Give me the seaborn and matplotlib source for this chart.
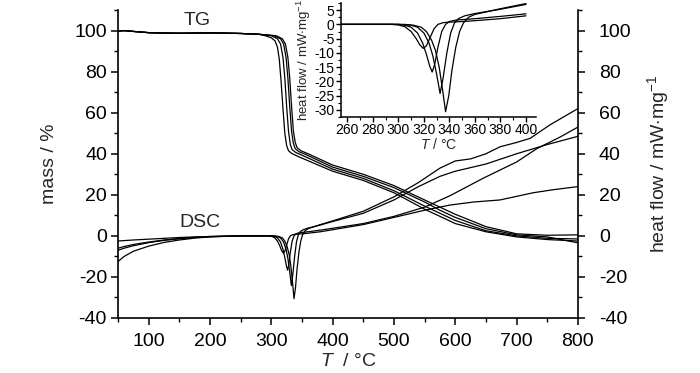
import numpy as np
import pandas as pd
import matplotlib
matplotlib.use("Agg")
import matplotlib.pyplot as plt
from matplotlib.ticker import MultipleLocator
import seaborn as sns

# ---------------- data ----------------
# TG curves (mass %)
tg_start_T = [50, 60, 75, 100, 125, 150, 200, 250, 280]
tg_start_v = [99.8, 100.0, 99.6, 99.0, 98.8, 98.7, 98.9, 98.6, 98.2]

tg1_T = [290, 300, 306, 310, 313, 316, 319, 322, 325, 328, 333, 345, 400, 450, 500, 550, 575, 600, 650, 700, 750, 800]
tg1_v = [97.5, 96.5, 95, 92, 86, 75, 62, 50, 44, 41.5, 40.2, 38.5, 31.5, 27, 21, 13, 9.5, 6, 2, -0.5, -1.8, -2.5]
tg2_T = [300, 310, 315, 319, 322, 325, 328, 331, 334, 340, 350, 400, 450, 500, 550, 575, 600, 650, 700, 750, 800]
tg2_v = [97.5, 96, 93.5, 87, 77, 63, 51, 44.5, 42, 40.6, 39.3, 32.5, 28, 22, 14.5, 11, 7.5, 2.5, 0, -1.2, -1.5]
tg3_T = [305, 315, 320, 324, 327, 330, 333, 336, 339, 345, 355, 400, 450, 500, 550, 575, 600, 650, 700, 750, 800]
tg3_v = [97.5, 96, 93.5, 87, 77, 63, 51, 45, 42.5, 41, 39.8, 33.5, 29, 23.5, 16.5, 12.5, 9, 3.5, 0.5, -0.5, -3.4]
tg4_T = [308, 318, 323, 327, 330, 333, 336, 339, 342, 348, 360, 400, 450, 500, 550, 575, 600, 650, 700, 750, 800]
tg4_v = [97.5, 96, 93.5, 87, 77, 63, 51, 45.5, 43, 41.5, 40, 34.5, 30, 24.5, 17.5, 14, 10.5, 4.5, 1, 0.3, 0.5]

# DSC curves (heat flow mW/mg)
dsc_low_T = [50, 60, 75, 100, 125, 150, 175, 200, 250, 290]
dsc1_low = [-2.5, -2.3, -2.0, -1.6, -1.2, -0.8, -0.5, -0.3, 0, 0]
dsc2_low = [-6.0, -5.2, -4.2, -3.0, -2.0, -1.3, -0.7, -0.3, 0, 0]
dsc3_low = [-7.0, -6.0, -4.8, -3.3, -2.2, -1.4, -0.8, -0.4, 0, 0]
dsc4_low = [-12.5, -10.0, -7.5, -5.0, -3.2, -2.0, -1.1, -0.5, 0, 0]

dsc1_T = [295, 300, 305, 310, 314, 317, 319.5, 322, 325, 328, 331, 335, 340, 350, 360, 380, 400, 450, 500, 550, 591, 630, 673, 727, 760, 800]
dsc1_v = [0, -0.2, -0.8, -2.5, -5, -7.3, -8.4, -7.5, -4.5, -1.5, 0, 0.6, 0.8, 1.0, 1.3, 2.0, 3.0, 5.5, 9, 12.5, 15, 16.5, 17.5, 21, 22.5, 24]
dsc2_T = [300, 305, 310, 315, 319, 322, 324.5, 326.5, 328.5, 331, 334, 337, 340, 345, 360, 380, 400, 450, 500, 550, 591, 645, 700, 733, 770, 800]
dsc2_v = [0, -0.3, -1, -3, -6.5, -10.5, -14.5, -16.7, -14, -8, -2.5, 0, 1, 1.5, 2, 2.8, 3.7, 6, 9.5, 14, 19.5, 28, 36, 42.5, 48, 53]
dsc3_T = [300, 310, 315, 320, 324, 327, 330, 332.7, 335, 338, 341, 344, 347, 352, 360, 380, 400, 450, 500, 540, 575, 600, 650, 700, 750, 800]
dsc3_v = [0, -0.3, -1, -3, -6.5, -11, -17.5, -24.2, -19, -10, -3, 0.5, 2, 3, 3.8, 5.3, 7, 11, 17.5, 24, 29, 31.5, 35, 40, 44.5, 48.5]
dsc4_T = [305, 312, 318, 322, 326, 329, 332, 335, 337, 339.5, 342, 345, 348, 351, 355, 360, 380, 400, 450, 500, 540, 575, 600, 625, 650, 673, 700, 722, 754, 800]
dsc4_v = [0, -0.3, -1, -2.5, -5.5, -9, -15, -24, -30.6, -25, -16, -8, -2.5, 0.5, 2.5, 3.5, 5.5, 7.3, 12, 19, 26, 33, 36.5, 37.5, 40, 43.4, 45.5, 47.5, 54, 62]

# ---------------- build long tables ----------------
rows = []
for name, T, v in [("tg1", tg1_T, tg1_v), ("tg2", tg2_T, tg2_v),
                   ("tg3", tg3_T, tg3_v), ("tg4", tg4_T, tg4_v)]:
    for t, y in zip(tg_start_T + T, tg_start_v + v):
        rows.append((name, t, y))
tg_df = pd.DataFrame(rows, columns=["curve", "T", "v"])

rows = []
for name, lo, T, v in [("d1", dsc1_low, dsc1_T, dsc1_v), ("d2", dsc2_low, dsc2_T, dsc2_v),
                       ("d3", dsc3_low, dsc3_T, dsc3_v), ("d4", dsc4_low, dsc4_T, dsc4_v)]:
    for t, y in zip(dsc_low_T + T, lo + v):
        rows.append((name, t, y))
dsc_df = pd.DataFrame(rows, columns=["curve", "T", "v"])

# ---------------- plotting ----------------
sns.set_theme(style="ticks")
plt.rcParams["font.family"] = ["Liberation Sans", "DejaVu Sans"]
plt.rcParams["axes.unicode_minus"] = False
plt.rcParams["mathtext.fontset"] = "custom"
plt.rcParams["mathtext.it"] = "Liberation Sans:italic"
plt.rcParams["mathtext.rm"] = "Liberation Sans"

fig = plt.figure(figsize=(7.0, 3.73), dpi=100)
ax = fig.add_axes([0.1686, 0.1475, 0.657, 0.8255])

lw = 0.9
sns.lineplot(data=tg_df, x="T", y="v", units="curve", estimator=None,
             color="black", lw=lw, ax=ax, sort=True)
sns.lineplot(data=dsc_df, x="T", y="v", units="curve", estimator=None,
             color="black", lw=lw, ax=ax, sort=True)

ax.set_xlim(50, 800)
ax.set_ylim(-40, 110)
ax.set_xticks([100, 200, 300, 400, 500, 600, 700, 800])
ax.set_yticks([-40, -20, 0, 20, 40, 60, 80, 100])
ax.xaxis.set_minor_locator(MultipleLocator(50))
ax.yaxis.set_minor_locator(MultipleLocator(10))
for s in ["top", "right"]:
    ax.spines[s].set_visible(False)
for s in ["left", "bottom"]:
    ax.spines[s].set_linewidth(1.2)
    ax.spines[s].set_color("black")
ax.tick_params(which="major", direction="out", length=5, width=1.1, labelsize=14, colors="black", pad=3)
ax.tick_params(axis="x", which="major", pad=6)
ax.tick_params(which="minor", direction="out", length=3, width=1.0, colors="black")
ax.set_xlabel(r"$T$  / °C", fontsize=14, labelpad=2)
ax.set_ylabel("mass / %", fontsize=14, labelpad=12)

ax.text(179, 105, "TG", fontsize=14, ha="center", va="center")
ax.text(184, 6.5, "DSC", fontsize=14, ha="center", va="center")

ax2 = ax.twinx()
ax2.set_ylim(-40, 110)
ax2.set_yticks([-40, -20, 0, 20, 40, 60, 80, 100])
ax2.yaxis.set_minor_locator(MultipleLocator(10))
for s in ["top", "left", "bottom"]:
    ax2.spines[s].set_visible(False)
ax2.spines["right"].set_visible(True)
ax2.spines["right"].set_linewidth(1.2)
ax2.spines["right"].set_color("black")
ax2.tick_params(which="major", direction="out", length=5, width=1.1, labelsize=14, colors="black", pad=10)
ax2.tick_params(which="minor", direction="out", length=3, width=1.0, colors="black")
ax2.set_ylabel(r"heat flow / mW$\cdot$mg$^{-1}$", fontsize=14, labelpad=10)
ax2.grid(False)

# inset
axi = fig.add_axes([0.487, 0.686, 0.279, 0.306])
sub = dsc_df[(dsc_df["T"] >= 250) & (dsc_df["T"] <= 410)]
sns.lineplot(data=sub, x="T", y="v", units="curve", estimator=None,
             color="black", lw=lw, ax=axi, sort=True)
axi.set_xlim(255, 408)
axi.set_ylim(-32.5, 7.5)
axi.set_xticks(list(range(260, 401, 20)))
axi.set_yticks([-30, -25, -20, -15, -10, -5, 0, 5])
axi.xaxis.set_minor_locator(MultipleLocator(10))
axi.yaxis.set_minor_locator(MultipleLocator(2.5))
for s in ["top", "right"]:
    axi.spines[s].set_visible(False)
for s in ["left", "bottom"]:
    axi.spines[s].set_linewidth(1.1)
    axi.spines[s].set_color("black")
axi.tick_params(which="major", direction="out", length=3.5, width=1.0, labelsize=10, colors="black", pad=1)
axi.tick_params(which="minor", direction="out", length=2, width=0.8, colors="black")
axi.set_xlabel(r"$T$ / °C", fontsize=10, labelpad=0)
axi.set_ylabel(r"heat flow / mW$\cdot$mg$^{-1}$", fontsize=9.5, labelpad=1)
axi.patch.set_alpha(0)

fig.savefig("out.png", dpi=100)
